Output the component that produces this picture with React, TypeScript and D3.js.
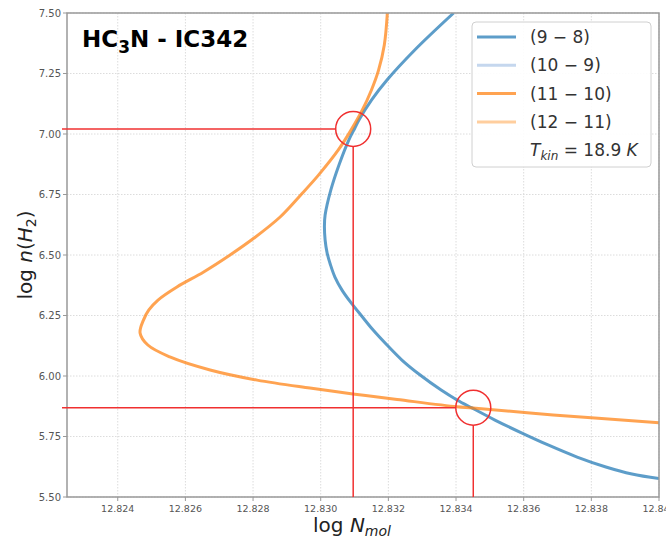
import React from "react";
import * as d3 from "d3";

const W = 666;
const H = 539;

// axis limits and ticks
const xDomain = [12.8225, 12.84];
const yDomain = [5.5, 7.5];
const xTicks = [12.824, 12.826, 12.828, 12.83, 12.832, 12.834, 12.836, 12.838, 12.84];
const yTicks = [5.5, 5.75, 6.0, 6.25, 6.5, 6.75, 7.0, 7.25, 7.5];

// (9-8) curve: log N_mol, log n(H2)
const blueN = [12.83393, 12.83278, 12.83196, 12.8315, 12.83113, 12.83101, 12.83083, 12.83054, 12.8303, 12.83013, 12.83011, 12.83013, 12.83019, 12.83029, 12.83042, 12.83063, 12.8309, 12.83121, 12.83155, 12.83196, 12.8324, 12.83294, 12.83356, 12.83403, 12.83447, 12.83515, 12.83595, 12.83672, 12.83758, 12.83843, 12.8392, 12.84];
const blueH2 = [7.5, 7.347, 7.223, 7.14, 7.058, 7.025, 6.975, 6.872, 6.769, 6.665, 6.62, 6.562, 6.508, 6.459, 6.409, 6.355, 6.302, 6.248, 6.19, 6.128, 6.066, 6.004, 5.942, 5.901, 5.868, 5.818, 5.764, 5.715, 5.665, 5.624, 5.595, 5.576];

// (11-10) curve
const orangeN = [12.83197, 12.83188, 12.83171, 12.8315, 12.83123, 12.8309, 12.83052, 12.82994, 12.82941, 12.8288, 12.82803, 12.82732, 12.82654, 12.82575, 12.82519, 12.82492, 12.82476, 12.82466, 12.82489, 12.82554, 12.82673, 12.82812, 12.82968, 12.83095, 12.83226, 12.83402, 12.8345, 12.83687, 12.84];
const orangeH2 = [7.5, 7.368, 7.264, 7.182, 7.099, 7.017, 6.934, 6.831, 6.748, 6.657, 6.57, 6.5, 6.43, 6.368, 6.314, 6.273, 6.231, 6.178, 6.128, 6.079, 6.025, 5.983, 5.95, 5.926, 5.903, 5.873, 5.868, 5.839, 5.807];

// solution crossings
const crossN = [12.83096, 12.83451];
const crossH2 = [7.021, 5.869];

const legendLabels = ["(9 \u2212 8)", "(10 \u2212 9)", "(11 \u2212 10)", "(12 \u2212 11)"];
const legendColors = ["#1f77b4", "#aec7e8", "#ff7f0e", "#ffbb78"];
const tkin = "18.9";

export default function App() {
  const m = { left: 67, right: 659, top: 13, bottom: 497 };
  const x = d3.scaleLinear().domain(xDomain).range([m.left, m.right]);
  const y = d3.scaleLinear().domain(yDomain).range([m.bottom, m.top]);

  const blue = blueN.map((n, i) => [n, blueH2[i]] as [number, number]);
  const orange = orangeN.map((n, i) => [n, orangeH2[i]] as [number, number]);

  const smooth = d3.line<[number, number]>().x(d => x(d[0])).y(d => y(d[1])).curve(d3.curveCatmullRom.alpha(0.5));

  const r = 17.5;
  const font = "DejaVu Sans, sans-serif";
  const legX = 472, legY = 22, legW = 179, legH = 145;
  const rowY = (i: number) => 37 + i * 28.3;

  return (
    <svg width={W} height={H} style={{ position: "absolute", left: 0, top: 0, background: "#fff" }} fontFamily={font}>
      <defs>
        <clipPath id="plot">
          <rect x={m.left} y={m.top} width={m.right - m.left} height={m.bottom - m.top} />
        </clipPath>
      </defs>
      {/* grid */}
      {xTicks.map((t, i) => (
        <line key={"gx" + i} x1={x(t)} x2={x(t)} y1={m.top} y2={m.bottom} stroke="#dcdcdc" strokeWidth={1} strokeDasharray="1.5,1.5" />
      ))}
      {yTicks.map((t, i) => (
        <line key={"gy" + i} x1={m.left} x2={m.right} y1={y(t)} y2={y(t)} stroke="#dcdcdc" strokeWidth={1} strokeDasharray="1.5,1.5" />
      ))}
      {/* curves */}
      <g clipPath="url(#plot)">
        <path d={smooth(blue) || ""} fill="none" stroke="#1f77b4" strokeOpacity={0.72} strokeWidth={3} />
        <path d={smooth(orange) || ""} fill="none" stroke="#ff7f0e" strokeOpacity={0.72} strokeWidth={3} strokeLinejoin="round" />
      </g>
      {/* spines */}
      <rect x={m.left} y={m.top} width={m.right - m.left} height={m.bottom - m.top} fill="none" stroke="#999" strokeWidth={1.5} />
      {/* ticks */}
      {yTicks.map((t, i) => (
        <g key={"ty" + i}>
          <line x1={m.left - 4} x2={m.left} y1={y(t)} y2={y(t)} stroke="#999" strokeWidth={1} />
          <text x={m.left - 6} y={y(t)} dy="0.35em" textAnchor="end" fontSize={10} fill="#555">{t.toFixed(2)}</text>
        </g>
      ))}
      {xTicks.map((t, i) => (
        <g key={"tx" + i}>
          <line x1={x(t)} x2={x(t)} y1={m.bottom} y2={m.bottom + 4} stroke="#999" strokeWidth={1} />
          <text x={x(t)} y={m.bottom + 15} textAnchor="middle" fontSize={9.5} fill="#555">{t.toFixed(3)}</text>
        </g>
      ))}
      {/* red solution markers */}
      {crossN.map((n, i) => {
        const cx = x(n), cy = y(crossH2[i]);
        return (
          <g key={"c" + i} stroke="#f03030" fill="none" strokeWidth={1.5}>
            <line x1={m.left - 5} x2={cx - r} y1={cy} y2={cy} />
            <line x1={cx} x2={cx} y1={cy + r} y2={m.bottom} />
            <circle cx={cx} cy={cy} r={r} />
          </g>
        );
      })}
      {/* axis labels */}
      <text x={352} y={532} textAnchor="middle" fontSize={20} fill="#222">
        log <tspan fontStyle="italic">N</tspan><tspan fontStyle="italic" fontSize={14} dy={4}>mol</tspan>
      </text>
      <text transform="translate(32,255) rotate(-90)" textAnchor="middle" fontSize={20} fill="#222">
        log <tspan fontStyle="italic">n</tspan>(<tspan fontStyle="italic">H</tspan><tspan fontSize={14} dy={4}>2</tspan><tspan dy={-4}>)</tspan>
      </text>
      {/* title */}
      <text x={82} y={47} fontSize={23} fontWeight="bold" fill="#000">
        HC<tspan fontSize={17} dy={6}>3</tspan><tspan dy={-6}>N - IC342</tspan>
      </text>
      {/* legend */}
      <rect x={legX} y={legY} width={legW} height={legH} rx={4} fill="#fff" fillOpacity={0.9} stroke="#d0d0d0" strokeWidth={1} />
      {legendLabels.map((l, i) => (
        <g key={"l" + i}>
          <line x1={477} x2={516} y1={rowY(i)} y2={rowY(i)} stroke={legendColors[i]} strokeOpacity={0.72} strokeWidth={3} />
          <text x={530} y={rowY(i)} dy="0.35em" fontSize={17} fill="#333">{l}</text>
        </g>
      ))}
      <text x={530} y={rowY(4)} dy="0.35em" fontSize={17} fill="#333">
        <tspan fontStyle="italic">T</tspan><tspan fontStyle="italic" fontSize={12} dy={4}>kin</tspan><tspan dy={-4}> = {tkin} </tspan><tspan fontStyle="italic">K</tspan>
      </text>
    </svg>
  );
}
